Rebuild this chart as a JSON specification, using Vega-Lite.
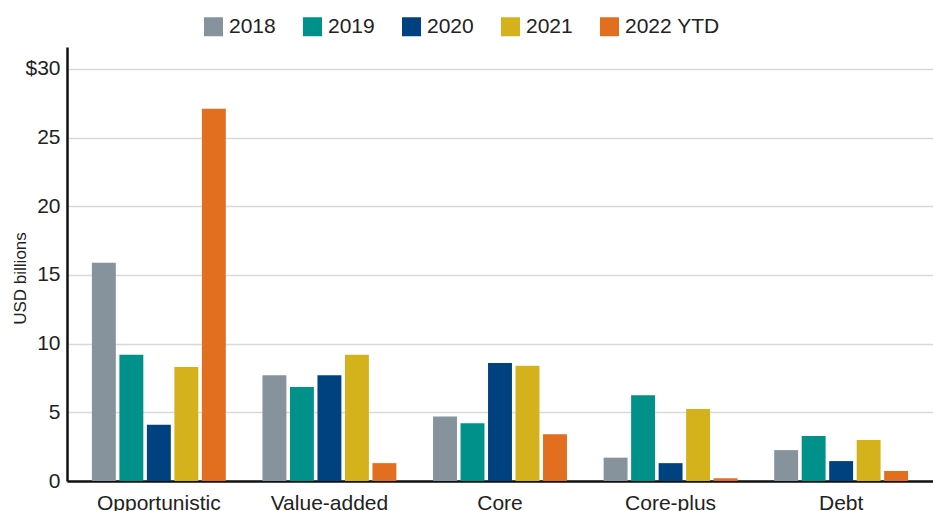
{
  "$schema": "https://vega.github.io/schema/vega-lite/v6.json",
  "width": 866,
  "height": 434,
  "autosize": {"type": "none"},
  "padding": {"left": 67, "top": 47, "right": 0, "bottom": 30},
  "background": "white",
  "config": {
    "view": {"stroke": null},
    "font": "Liberation Sans",
    "axis": {"labelColor": "#222222", "titleColor": "#222222", "labelFont": "Liberation Sans", "titleFont": "Liberation Sans"},
    "legend": {"labelFont": "Liberation Sans"}
  },
  "data": {
    "values": [
      {"strategy": "Opportunistic", "year": "2018", "value": 15.9},
      {"strategy": "Opportunistic", "year": "2019", "value": 9.2},
      {"strategy": "Opportunistic", "year": "2020", "value": 4.1},
      {"strategy": "Opportunistic", "year": "2021", "value": 8.3},
      {"strategy": "Opportunistic", "year": "2022 YTD", "value": 27.1},
      {"strategy": "Value-added", "year": "2018", "value": 7.7},
      {"strategy": "Value-added", "year": "2019", "value": 6.85},
      {"strategy": "Value-added", "year": "2020", "value": 7.7},
      {"strategy": "Value-added", "year": "2021", "value": 9.2},
      {"strategy": "Value-added", "year": "2022 YTD", "value": 1.3},
      {"strategy": "Core", "year": "2018", "value": 4.7},
      {"strategy": "Core", "year": "2019", "value": 4.2},
      {"strategy": "Core", "year": "2020", "value": 8.6},
      {"strategy": "Core", "year": "2021", "value": 8.4},
      {"strategy": "Core", "year": "2022 YTD", "value": 3.4},
      {"strategy": "Core-plus", "year": "2018", "value": 1.7},
      {"strategy": "Core-plus", "year": "2019", "value": 6.25},
      {"strategy": "Core-plus", "year": "2020", "value": 1.3},
      {"strategy": "Core-plus", "year": "2021", "value": 5.25},
      {"strategy": "Core-plus", "year": "2022 YTD", "value": 0.2},
      {"strategy": "Debt", "year": "2018", "value": 2.25},
      {"strategy": "Debt", "year": "2019", "value": 3.27},
      {"strategy": "Debt", "year": "2020", "value": 1.45},
      {"strategy": "Debt", "year": "2021", "value": 2.98},
      {"strategy": "Debt", "year": "2022 YTD", "value": 0.73}
    ]
  },
  "mark": {"type": "bar"},
  "encoding": {
    "x": {
      "field": "strategy",
      "type": "nominal",
      "sort": ["Opportunistic", "Value-added", "Core", "Core-plus", "Debt"],
      "scale": {"paddingInner": 0.215, "paddingOuter": 0.146},
      "axis": {
        "title": null,
        "labelAngle": 0,
        "labelFontSize": 21,
        "labelPadding": 11,
        "tickSize": 0,
        "domainColor": "#111111",
        "domainWidth": 2.5,
        "grid": false
      }
    },
    "xOffset": {
      "field": "year",
      "type": "nominal",
      "sort": ["2018", "2019", "2020", "2021", "2022 YTD"],
      "scale": {"paddingInner": 0.13}
    },
    "y": {
      "field": "value",
      "type": "quantitative",
      "scale": {"domain": [0, 31.6], "nice": false},
      "axis": {
        "title": "USD billions",
        "titleFontSize": 17,
        "titleFontWeight": "normal",
        "titleAngle": 270,
        "titleX": -47,
        "titleY": 231,
        "titleAlign": "center",
        "titleBaseline": "middle",
        "values": [0, 5, 10, 15, 20, 25, 30],
        "labelExpr": "datum.value == 30 ? '$30' : datum.label",
        "labelFontSize": 21,
        "labelPadding": 7,
        "tickSize": 0,
        "domainColor": "#111111",
        "domainWidth": 2.5,
        "gridColor": "#d9d9d9",
        "gridWidth": 1.5
      }
    },
    "color": {
      "field": "year",
      "type": "nominal",
      "sort": ["2018", "2019", "2020", "2021", "2022 YTD"],
      "scale": {
        "domain": ["2018", "2019", "2020", "2021", "2022 YTD"],
        "range": ["#87939c", "#00918a", "#00417f", "#d4b21c", "#e26e20"]
      },
      "legend": {
        "title": null,
        "orient": "none",
        "direction": "horizontal",
        "legendX": 136,
        "legendY": -31,
        "symbolType": "square",
        "symbolSize": 361,
        "symbolStrokeWidth": 0,
        "symbolOpacity": 1,
        "labelFontSize": 21,
        "labelOffset": 5,
        "columnPadding": 26,
        "labelColor": "#222222"
      }
    }
  }
}
